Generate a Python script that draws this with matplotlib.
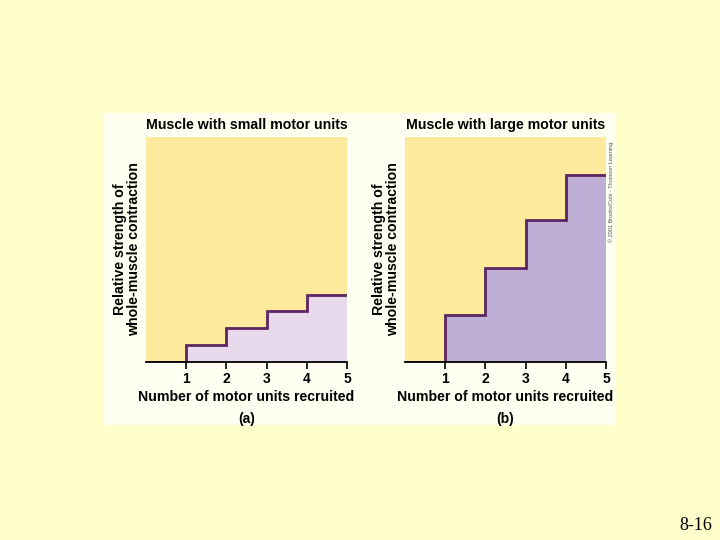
"""Motor unit recruitment: small vs large motor units."""
import numpy as np
import matplotlib.pyplot as plt
from matplotlib.patches import Rectangle

plt.rcParams['font.family'] = ['Liberation Sans', 'DejaVu Sans']

units = [1, 2, 3, 4, 5]
small_strength = [0.75, 1.5, 2.25, 3.0]
large_strength = [2.1, 4.2, 6.3, 8.3]
titles = ["Muscle with small motor units", "Muscle with large motor units"]
panel_tags = ["(a)", "(b)"]
fill_colors = ["#E8DAEC", "#BFAED5"]

BG = "#FFFFCC"
PANEL = "#FFFFF2"
YELLOW = "#FDEA9C"
LINE = "#5C2661"

fig = plt.figure(figsize=(7.2, 5.4), dpi=100, facecolor=BG)
fig.patches.append(Rectangle((104 / 720, 115 / 540), 512 / 720, 312 / 540,
                             transform=fig.transFigure, facecolor=PANEL,
                             edgecolor="none", zorder=-5))

lefts = [146 / 720, 405 / 720]
for left, strength, title, tag, fc in zip(lefts, [small_strength, large_strength],
                                          titles, panel_tags, fill_colors):
    ax = fig.add_axes([left, 178 / 540, 201 / 720, 225 / 540])
    ax.set_facecolor(YELLOW)
    edges = [0] + units
    vals = [0] + strength
    ax.stairs(vals, edges, fill=True, color=fc, zorder=1)
    ax.stairs(vals, edges, baseline=None, color=LINE, linewidth=2, zorder=2)
    ax.set_xlim(0, 5)
    ax.set_ylim(0, 10)
    for s in ["left", "right", "top"]:
        ax.spines[s].set_visible(False)
    ax.spines["bottom"].set_linewidth(1.3)
    ax.spines["bottom"].set_zorder(3)
    ax.set_yticks([])
    ax.set_xticks(units)
    ax.tick_params(axis="x", direction="out", length=5, width=1.2, pad=2)
    for lbl in ax.get_xticklabels():
        lbl.set_fontweight("bold")
        lbl.set_fontsize(10)
    ax.set_title(title, fontsize=10.2, fontweight="bold", pad=6)
    ax.set_xlabel("Number of motor units recruited", fontsize=10.2,
                  fontweight="bold", labelpad=3)
    ax.set_ylabel("Relative strength of\nwhole-muscle contraction", fontsize=10.2,
                  fontweight="bold", linespacing=1.0, multialignment="center")
    ax.yaxis.set_label_coords(-0.025, 0.5)
    ax.text(0.5, -0.253, tag, transform=ax.transAxes, fontsize=10,
            fontweight="bold", ha="center", va="center", clip_on=False)

fig.text(611 / 720, 1 - 192 / 540, "\u00a9 2001 Brooks/Cole - Thomson Learning",
         rotation=90, fontsize=4, color="#555555", ha="center", va="center")
fig.text(696 / 720, 1 - 525 / 540, "8-16", fontsize=13,
         family=["Liberation Serif", "DejaVu Serif"], ha="center", va="center")

fig.savefig("out.png", dpi=100, facecolor=BG)
